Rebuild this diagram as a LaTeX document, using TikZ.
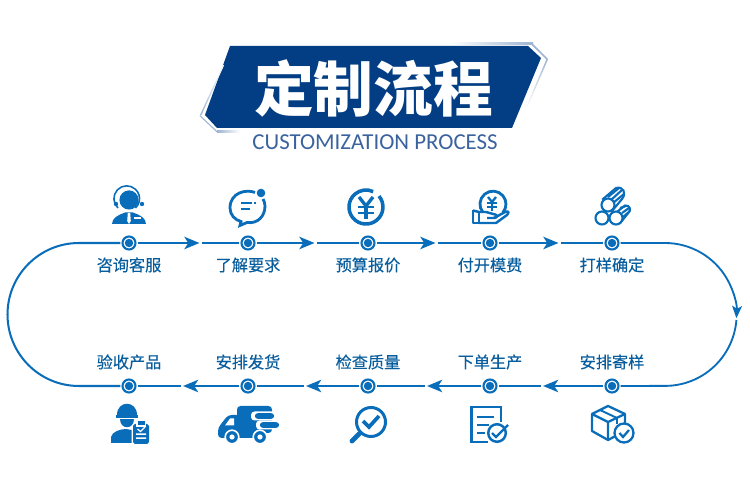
\documentclass[tikz,border=0pt]{standalone}
\usepackage{fontspec}
\newfontfamily\cjk{Noto Sans CJK SC}
\newfontfamily\cjklabel[FakeBold=0.25]{Noto Sans CJK SC}
\setsansfont{Carlito}
\usetikzlibrary{arrows.meta}
\definecolor{flowblue}{HTML}{0A6DB9}
\definecolor{bannerblue}{HTML}{033D84}
\definecolor{edgeblue}{HTML}{9DB4D2}
\definecolor{subblue}{HTML}{3A639E}
\begin{document}
\begin{tikzpicture}[
    x=0.02cm, y=-0.02cm,
    track/.style={draw=flowblue, line width=1.3pt},
    arr/.style={track, -{Stealth[length=8.6pt, width=7pt, inset=2.2pt]}},
    endarr/.style={draw=flowblue, line width=1.05pt, -{Stealth[length=7pt, width=5.6pt, inset=1.6pt]}},
    dotnode/.style={circle, draw=flowblue, line width=1.2pt, fill=white, inner sep=0pt, minimum size=7.4pt, outer sep=1.2pt,
        path picture={\fill[flowblue] (path picture bounding box.center) circle (2.4pt);}},
    steplabel/.style={font=\cjklabel\fontsize{9.2}{11}\selectfont, text=flowblue!85!black},
    icon/.style={draw=flowblue, line width=1.5pt},
    thinicon/.style={draw=flowblue, line width=1.1pt},
    solid/.style={fill=flowblue, draw=none}
]
\useasboundingbox (0,0) rectangle (750,482);

% ================= TITLE BANNER =================
\fill[bannerblue] (230,46) -- (528,46) -- (541,58) -- (512,128) -- (217,128) -- (205,115) -- cycle;
\shade[left color=white, right color=edgeblue] (450,43) -- (533,43) -- (533,44.5) -- (450,44.5) -- cycle;
\fill[edgeblue] (532,43) -- (548,59) -- (546.5,59.5) -- (531,44.5) -- cycle;
\shade[shading angle=0, top color=edgeblue, bottom color=white] (546.5,59) -- (548,59.5) -- (527,108) -- (526,107.5) -- cycle;
\shade[shading angle=0, top color=white, bottom color=edgeblue] (223,65) -- (224,65.5) -- (201.5,115) -- (200,115) -- cycle;
\fill[edgeblue] (200,115) -- (217,131) -- (217,132.5) -- (199.5,116) -- cycle;
\shade[left color=edgeblue, right color=white] (217,131) -- (240,131) -- (240,132.5) -- (217,132.5) -- cycle;
\node[font=\cjk\bfseries\fontsize{34}{36}\selectfont, text=white] (title) at (373.5,88) {定制流程};
\node[font=\sffamily\fontsize{13}{14}\selectfont, text=subblue] (subtitle) at (375,142) {CUSTOMIZATION PROCESS};

% ================= TRACK NODES =================
\node[dotnode] (talk) at (129,243) {};
\node[dotnode] (need) at (248,243) {};
\node[dotnode] (quote) at (368,243) {};
\node[dotnode] (pay) at (490,243) {};
\node[dotnode] (sample) at (612,243) {};
\node[dotnode] (post) at (612,386) {};
\node[dotnode] (make) at (490,386) {};
\node[dotnode] (check) at (368,386) {};
\node[dotnode] (ship) at (248,386) {};
\node[dotnode] (accept) at (129,386) {};

\coordinate (gapA) at (199.5,243);
\coordinate (gapB) at (314.5,243);
\coordinate (gapC) at (435.5,243);
\coordinate (gapD) at (558.5,243);
\coordinate (gapE) at (543,386);
\coordinate (gapF) at (427,386);
\coordinate (gapG) at (306,386);
\coordinate (gapH) at (183,386);

% Labels
\node[steplabel] (talkL) at (129,265) {咨询客服};
\node[steplabel] (needL) at (248,265) {了解要求};
\node[steplabel] (quoteL) at (368,265) {预算报价};
\node[steplabel] (payL) at (490,265) {付开模费};
\node[steplabel] (sampleL) at (612,265) {打样确定};
\node[steplabel] (postL) at (612,362) {安排寄样};
\node[steplabel] (makeL) at (490,362) {下单生产};
\node[steplabel] (checkL) at (368,362) {检查质量};
\node[steplabel] (shipL) at (248,362) {安排发货};
\node[steplabel] (acceptL) at (129,362) {验收产品};

% ================= TRACK ARROWS =================
\draw[arr] (talk) -- (gapA);
\draw[track, shorten <=1.2pt] (gapA) -- (need);
\draw[arr] (need) -- (gapB);
\draw[track, shorten <=1.2pt] (gapB) -- (quote);
\draw[arr] (quote) -- (gapC);
\draw[track, shorten <=1.2pt] (gapC) -- (pay);
\draw[arr] (pay) -- (gapD);
\draw[track, shorten <=1.2pt] (gapD) -- (sample);
\draw[arr] (post) -- (gapE);
\draw[track, shorten <=1.2pt] (gapE) -- (make);
\draw[arr] (make) -- (gapF);
\draw[track, shorten <=1.2pt] (gapF) -- (check);
\draw[arr] (check) -- (gapG);
\draw[track, shorten <=1.2pt] (gapG) -- (ship);
\draw[arr] (ship) -- (gapH);
\draw[track, shorten <=1.2pt] (gapH) -- (accept);

% Right bend with its arrow, left bend
\draw[endarr] (sample) -- (665,243) arc[start angle=-90, end angle=3, radius=71.5];
\draw[track, line width=1.05pt] (736.4,320) arc[start angle=4.5, end angle=90, radius=71.5] -- (post);
\draw[track, line width=1.15pt] (accept) -- (79,386) arc[start angle=90, end angle=270, radius=71.5] -- (talk);

% ================= ICONS, TOP ROW =================
% headset agent
\fill[solid] (129,200) circle (9.6);
\draw[thinicon, line width=0.9pt] (118,208) arc[start angle=133, end angle=407, radius=12.8];
\fill[solid] (116,204) circle (2.2);
\fill[solid] (142,204) circle (2.2);
\fill[solid] (112,224) .. controls (112,218) and (118,215) .. (125,212.5) -- (133,212.5) .. controls (140,215) and (146,218) .. (146,224) -- cycle;
\fill[white] (127.8,213) -- (130.2,213) -- (130.8,221) -- (129,224) -- (127.2,221) -- cycle;
\fill[white] (134,217) rectangle (141,219);

% chat bubble
\draw[icon, line width=1.6pt] (255,192.5) .. controls (247,189) and (230,192) .. (230,208) .. controls (230,215) and (235,220) .. (241,221.5) -- (240,225.5) -- (247,222.5) .. controls (258,224) and (265,216) .. (265,206) .. controls (265,203) and (264,201) .. (263,199);
\fill[solid] (261,193) circle (4.3);
\draw[thinicon, line width=0.9pt] (241,203) -- (252,203) (254,203) -- (256,203);
\draw[thinicon, line width=0.9pt] (241,209) -- (250,209);

% yen coin
\draw[icon, line width=2pt] (379,196.1) arc[start angle=-40, end angle=295, radius=17];
\draw[icon, line width=1.9pt] (359,197) -- (366,206) -- (373,197);
\draw[icon, line width=1.7pt] (358,207) -- (374,207) (358,213) -- (374,213);
\draw[icon, line width=2pt] (366,206) -- (366,219);

% hand with coin
\draw[icon, line width=1.6pt] (483,212.5) arc[start angle=140, end angle=400, radius=13];
\draw[icon, line width=1.3pt] (488,197) -- (492,202) -- (496,197);
\draw[icon, line width=1.2pt] (487,203) -- (497,203) (487,207) -- (497,207);
\draw[icon, line width=1.5pt] (492,202) -- (492,211);
\draw[icon, line width=1.4pt, line join=round] (473,210.5) -- (473,223) -- (479,223) -- (479,212);
\draw[icon, line width=1.4pt, line join=round] (473,210.5) -- (479,212) -- (486,212) -- (495,214.5) .. controls (498,215) and (497,218) .. (494,218) -- (487,218);
\draw[icon, line width=1.4pt, line join=round] (494,218) -- (506,211.5) .. controls (509,211) and (509,213) .. (507,215) -- (496,223) -- (479,223);

% steel bars
\draw[icon, line width=1.2pt, fill=white] (603,199) -- (616,188) .. controls (623,186) and (627,193) .. (622,199) -- (612,211) -- cycle;
\draw[icon, line width=1.2pt] (608,197) -- (619,188) (611,200) -- (622,190) (613,203) -- (624,194);
\draw[icon, line width=1.2pt, fill=white] (608,205) circle (6.5);
\draw[icon, line width=1.2pt, fill=white] (618,211) -- (625,205.5) .. controls (630,205) and (631,210) .. (629,212) -- (621,222) -- cycle;
\draw[icon, line width=1.2pt] (620,208) -- (626,206) (622,213) -- (629,208) (623,217) -- (630,211);
\draw[icon, line width=1.2pt, fill=white] (602,218) circle (6.5);
\draw[icon, line width=1.2pt, fill=white] (616,218) circle (6.5);

% ================= ICONS, BOTTOM ROW =================
% worker with clipboard
\fill[solid] (117,415) .. controls (117,400) and (137,400) .. (137,415) -- cycle;
\fill[solid] (116,415.5) rectangle (138,418);
\fill[solid] (120,419.5) .. controls (120,430) and (134,430) .. (134,419.5) -- cycle;
\fill[solid] (111,443) -- (111,437) .. controls (112,432) and (120,429) .. (126,429) -- (131.5,430) -- (131.5,443) -- cycle;
\fill[solid, rounded corners=1pt] (133,424) rectangle (149,444);
\fill[white] (136,423) rectangle (146,427);
\fill[solid] (137.5,421.5) rectangle (144.5,425.5);
\fill[white] (136,433.5) rectangle (146,435) (136,437.5) rectangle (146,439);
\draw[white, line width=0.7pt] (137.5,429) -- (140.5,431.5) -- (145,427);

% delivery truck
\fill[solid, rounded corners=2pt] (237,406) rectangle (272,433);
\fill[solid, rounded corners=2pt] (218,438) -- (218,428) -- (228,415) -- (240,415) -- (240,438) -- cycle;
\fill[solid] (236,433) rectangle (264,438);
\fill[white] (225,425.5) -- (230,418.5) -- (234,418.5) -- (234,425.5) -- cycle;
\fill[white, rounded corners=2pt] (251,411.5) rectangle (276,420.5);
\fill[solid, rounded corners=1.5pt] (255,413.2) rectangle (274,418.8);
\fill[white, rounded corners=2pt] (256,420.5) rectangle (281,429.5);
\fill[solid, rounded corners=1.5pt] (260,422.2) rectangle (279,427.8);
\fill[white] (272,429.5) rectangle (282,434);
\draw[draw=white, line width=0.9pt, fill=flowblue] (232,437) circle (6.8);
\fill[white] (232,437) circle (2.6);
\draw[draw=white, line width=0.9pt, fill=flowblue] (260,437) circle (6.8);
\fill[white] (260,437) circle (2.6);

% magnifier
\draw[icon, line width=1.7pt] (371,422) circle (14.5);
\draw[draw=flowblue, line width=2.8pt, line cap=round] (352,441) -- (359,434);
\draw[icon, line width=2.1pt] (363,421) -- (369,427) -- (379,416);

% order sheet
\draw[icon, line width=1.5pt] (488,442) -- (471.5,442) -- (471.5,407) -- (501,407) -- (501,422);
\draw[icon, line width=1.3pt] (477,417) -- (494,417) (477,425) -- (489,425) (477,433) -- (485,433);
\draw[icon, line width=1.4pt, fill=white] (497,433) circle (8.8);
\draw[icon, line width=1.3pt] (492,433) -- (496,437) -- (508,425);

% parcel
\draw[icon, line join=round, line width=1.3pt] (592,414) -- (608,406) -- (625,414) -- (625,431) -- (608,440) -- (592,431) -- cycle;
\draw[icon, line join=round, line width=1.3pt] (592,414) -- (608,422) -- (625,414) (608,422) -- (608,440);
\draw[icon, line join=round, line width=1.1pt] (600,410) -- (617,418) -- (617,424);
\draw[icon, line width=1.3pt, fill=white] (624,433) circle (9.5);
\draw[icon, line width=1.3pt] (619.5,433) -- (623,437) -- (629,430);
\end{tikzpicture}
\end{document}
